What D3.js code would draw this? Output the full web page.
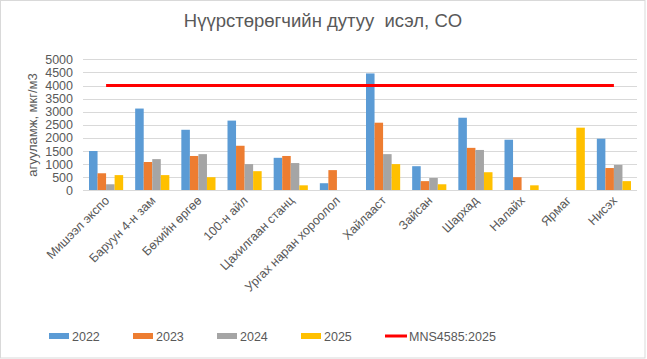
<!DOCTYPE html>
<html><head><meta charset="utf-8">
<script src="https://cdn.jsdelivr.net/npm/d3@7/dist/d3.min.js"></script>
<style>body{margin:0;background:#fff}svg{display:block;font-family:"Liberation Sans",Arial,sans-serif}</style>
</head><body>
<svg id="c" width="647" height="359"></svg>
<script>
const categories = ["Мишээл экспо","Баруун 4-н зам","Бөхийн өргөө","100-н айл","Цахилгаан станц","Ургах наран хороолол","Хайлааст","Зайсан","Шархад","Налайх","Ярмаг","Нисэх"];
const s2022 = [1500,3120,2310,2660,1240,270,4460,920,2770,1930,null,1970];
const s2023 = [650,1080,1310,1700,1310,770,2580,350,1620,500,null,850];
const s2024 = [230,1190,1380,1000,1040,null,1380,470,1540,null,null,970];
const s2025 = [580,580,500,730,190,null,1000,230,690,190,2390,350];
const standard = 4000;
const seriesNames = ["2022","2023","2024","2025"];
const standardName = "MNS4585:2025";
const yTicks = [0,500,1000,1500,2000,2500,3000,3500,4000,4500,5000];
const colors = ["#5b9bd5","#ed7d31","#a5a5a5","#ffc000"];
const title = "Нүүрстөрөгчийн дутуу  исэл, CO";
const yTitle = "агууламж, мкг/м3";

const series = [s2022,s2023,s2024,s2025];
const svg = d3.select("#c");
const L=83,R=637,T=59.3,B=190.3;
svg.append("rect").attr("x",0.5).attr("y",0.5).attr("width",644.5).attr("height",357.5).attr("fill","#fff").attr("stroke","#d9d9d9");

const x0 = d3.scaleBand().domain(categories).range([L,R]).paddingInner(0.26).paddingOuter(0.13);
const x1 = d3.scaleBand().domain(d3.range(4)).range([0,x0.bandwidth()]);
const y = d3.scaleLinear().domain([0,5000]).range([B,T]);

// grid
svg.append("g").selectAll("line").data(yTicks.slice(1)).join("line")
  .attr("x1",L).attr("x2",R).attr("y1",d=>Math.round(y(d))+0.5).attr("y2",d=>Math.round(y(d))+0.5)
  .attr("stroke","#d9d9d9").attr("stroke-width",1);

// y axis labels
const yAxis = d3.axisLeft(y).tickValues(yTicks).tickFormat(d3.format("d")).tickSize(0).tickPadding(0);
const ga = svg.append("g").attr("transform",`translate(${L-10},0)`).call(yAxis);
ga.select(".domain").remove();
ga.selectAll("text").attr("fill","#595959").attr("font-size","12.5px").attr("font-family","'Liberation Sans',Arial,sans-serif");

// bars
const g = svg.append("g");
categories.forEach((c,i)=>{
  series.forEach((s,j)=>{
    const v=s[i]; if(v==null) return;
    g.append("rect").attr("x",x0(c)+x1(j)).attr("width",x1.bandwidth())
     .attr("y",y(v)).attr("height",y(0)-y(v)).attr("fill",colors[j]);
  });
});

// x axis line
svg.append("line").attr("x1",L).attr("x2",R).attr("y1",Math.round(B)+0.5).attr("y2",Math.round(B)+0.5).attr("stroke","#d9d9d9");

// standard line
const c0 = x0(categories[0])+x0.bandwidth()/2, c1 = x0(categories[categories.length-1])+x0.bandwidth()/2;
svg.append("line").attr("x1",c0).attr("x2",c1).attr("y1",y(standard)).attr("y2",y(standard)).attr("stroke","#ff0000").attr("stroke-width",3);

// x labels
svg.append("g").selectAll("text").data(categories).join("text")
  .attr("transform",d=>`translate(${x0(d)+x0.bandwidth()/2+4},${B+11}) rotate(-45)`)
  .attr("text-anchor","end").attr("font-size","12.5px").attr("fill","#595959").text(d=>d);

// titles
svg.append("text").attr("x",323).attr("y",27).attr("text-anchor","middle").attr("font-size","18.5px").attr("fill","#595959").style("white-space","pre").text(title);
svg.append("text").attr("transform",`translate(37,125) rotate(-90)`).attr("text-anchor","middle").attr("font-size","13px").attr("fill","#595959").text(yTitle);

// legend
const lg = svg.append("g");
const lx = [49,133,217,301];
seriesNames.forEach((n,j)=>{
  lg.append("rect").attr("x",lx[j]).attr("y",333).attr("width",20).attr("height",6).attr("fill",colors[j]);
  lg.append("text").attr("x",lx[j]+23).attr("y",341).attr("font-size","12.5px").attr("fill","#595959").text(n);
});
lg.append("line").attr("x1",385).attr("x2",407).attr("y1",336).attr("y2",336).attr("stroke","#ff0000").attr("stroke-width",3);
lg.append("text").attr("x",409).attr("y",341).attr("font-size","12.5px").attr("fill","#595959").text(standardName);
</script>
</body></html>
